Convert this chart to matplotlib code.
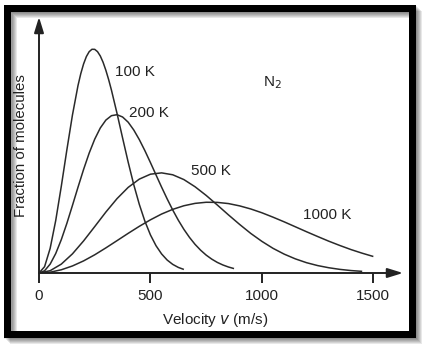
import matplotlib.pyplot as plt
from matplotlib.patches import Rectangle

plt.rcParams['font.family'] = ['Liberation Sans', 'DejaVu Sans']

# velocities (m/s) where the curves were read, and the fraction of molecules (arb. units)
v100 = [0, 25, 50, 75, 100, 125, 150, 175, 187.5, 200, 212.5, 225, 237.5, 250, 262.5,
        275, 287.5, 300, 312.5, 325, 350, 375, 400, 425, 450, 475, 500, 525, 550, 575,
        600, 625, 650]
f100 = [0, 0.096, 0.374, 0.798, 1.318, 1.873, 2.402, 2.852, 3.033, 3.180, 3.292, 3.366,
        3.403, 3.402, 3.367, 3.301, 3.205, 3.083, 2.941, 2.782, 2.428, 2.054, 1.687,
        1.345, 1.044, 0.788, 0.579, 0.415, 0.290, 0.197, 0.131, 0.085, 0.054]

v200 = list(range(0, 876, 25))
f200 = [0, 0.034, 0.135, 0.296, 0.507, 0.755, 1.027, 1.305, 1.575, 1.823, 2.036, 2.206,
        2.326, 2.393, 2.408, 2.373, 2.294, 2.176, 2.029, 1.861, 1.679, 1.492, 1.306,
        1.127, 0.958, 0.803, 0.664, 0.542, 0.436, 0.347, 0.272, 0.211, 0.161, 0.122,
        0.091, 0.067]

v500 = list(range(0, 1451, 50))
f500 = [0, 0.035, 0.135, 0.291, 0.488, 0.706, 0.927, 1.131, 1.302, 1.428, 1.503, 1.523,
        1.494, 1.421, 1.312, 1.180, 1.034, 0.884, 0.739, 0.602, 0.481, 0.375, 0.287,
        0.215, 0.157, 0.113, 0.080, 0.055, 0.037, 0.025]

v1000 = list(range(0, 1501, 50))
f1000 = [0, 0.012, 0.049, 0.107, 0.184, 0.277, 0.382, 0.492, 0.603, 0.710, 0.809, 0.897,
         0.968, 1.023, 1.059, 1.076, 1.074, 1.056, 1.021, 0.974, 0.916, 0.849, 0.778,
         0.703, 0.628, 0.555, 0.484, 0.418, 0.356, 0.301, 0.251]

xticks = [0, 500, 1000, 1500]
labels = ['100 K', '200 K', '500 K', '1000 K']

W, H = 428, 350
fig = plt.figure(figsize=(W / 100, H / 100), dpi=100)

def fx(x):
    return x / W

def fy(y):
    return 1 - y / H

## axes placed in pixel units of the reference
ax = fig.add_axes([fx(39), fy(273), (403 - 39) / W, (273 - 17) / H])
ax.set_xlim(0, 1633)
ax.set_ylim(0, 3.894)
for s in ax.spines.values():
    s.set_visible(False)

lc = '#2a2a2a'
for v, f in [(v100, f100), (v200, f200), (v500, f500), (v1000, f1000)]:
    ax.plot(v, f, color=lc, lw=1.1, solid_capstyle='butt', solid_joinstyle='round')

arrow = dict(arrowstyle='-|>,head_length=0.55,head_width=0.17', mutation_scale=17,
             color='#222222', lw=1.4, shrinkA=0, shrinkB=0)
ax.annotate('', xy=(1, 0), xytext=(0, 0), xycoords='axes fraction', arrowprops=arrow)
ax.annotate('', xy=(0, 1), xytext=(0, 0), xycoords='axes fraction', arrowprops=arrow)

ax.set_xticks(xticks)
ax.set_xticklabels([str(t) for t in xticks], fontsize=11, color='#222222')
ax.tick_params(axis='x', length=7.2, width=1.4, color='#222222', direction='out', pad=4)
ax.set_yticks([])

fig.text(fx(215.5), fy(324), 'Velocity $v$ (m/s)', fontsize=11, color='#222222',
         ha='center', va='baseline')
fig.text(fx(28), fy(146), 'Fraction of molecules', fontsize=10.8, color='#222222',
         rotation=90, ha='right', va='center')

# curve labels
for lab, (px, py) in zip(labels, [(115, 76), (129, 117), (191, 175), (303, 219)]):
    fig.text(fx(px), fy(py), lab, fontsize=11, color='#222222', ha='left', va='baseline')
fig.text(fx(263), fy(86), r'N$_2$', fontsize=11, color='#222222', ha='left', va='baseline')

## frame with shadow
for k in range(1, 7):
    fig.patches.append(Rectangle((fx(6.5 + k), fy(333.5 + k)), 405 / W, 326 / H,
                                 transform=fig.transFigure, fill=False,
                                 edgecolor='black', alpha=0.09, lw=5.04))
fig.patches.append(Rectangle((fx(6.5), fy(333.5)), 405 / W, 326 / H,
                             transform=fig.transFigure, fill=False,
                             edgecolor='black', lw=5.04))

fig.savefig('out.png', dpi=100)
